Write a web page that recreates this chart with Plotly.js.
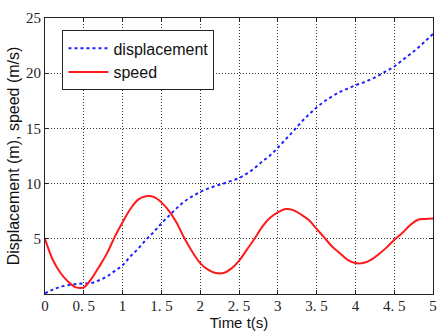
<!DOCTYPE html>
<html><head><meta charset="utf-8">
<script src="https://cdn.plot.ly/plotly-3.0.1.min.js"></script>
<style>html,body{margin:0;padding:0;background:#fff}#c{width:441px;height:331px}</style>
</head><body><div id="c"></div>
<script>
const time = [0,0.1,0.2,0.3,0.4,0.5,0.6,0.7,0.8,0.9,1.0,1.1,1.2,1.3,1.4,1.5,1.6,1.7,1.8,1.9,2.0,2.1,2.2,2.3,2.4,2.5,2.6,2.7,2.8,2.9,3.0,3.1,3.2,3.3,3.4,3.5,3.6,3.7,3.8,3.9,4.0,4.1,4.2,4.3,4.4,4.5,4.6,4.7,4.8,4.9,5.0];
const displacement = [0.05,0.4,0.65,0.8,0.9,0.95,1.0,1.25,1.6,2.1,2.6,3.4,4.1,4.9,5.6,6.4,7.1,7.8,8.4,8.85,9.25,9.55,9.8,10.0,10.25,10.5,10.9,11.4,12.0,12.55,13.25,14.0,14.75,15.55,16.25,16.9,17.45,17.9,18.3,18.6,18.9,19.15,19.45,19.8,20.2,20.6,21.15,21.7,22.25,22.9,23.55];
const speed = [5.0,3.1,1.9,1.1,0.6,0.6,1.4,2.5,3.7,5.2,6.5,7.7,8.55,8.85,8.8,8.3,7.5,6.4,5.0,3.8,2.8,2.2,1.9,1.9,2.3,3.0,4.0,5.0,6.1,6.9,7.4,7.7,7.6,7.2,6.7,5.9,5.1,4.3,3.7,3.1,2.8,2.8,3.1,3.6,4.2,4.9,5.5,6.2,6.7,6.8,6.85];
const xTickVals = [0,0.5,1,1.5,2,2.5,3,3.5,4,4.5,5];
const xTickText = ["0","0. 5","1","1. 5","2","2. 5","3","3. 5","4","4. 5","5"];
const yTickVals = [5,10,15,20,25];
const yTickText = ["5","10","15","20","25"];

const traces = [
  {x: time, y: displacement, name: 'displacement', mode: 'lines', line: {color: '#1f1fff', width: 2, dash: 'dot', shape: 'spline'}},
  {x: time, y: speed, name: 'speed', mode: 'lines', line: {color: '#ff1a1a', width: 2, shape: 'spline'}}
];
const sans = 'Liberation Sans, Arial, sans-serif';
const axisCommon = {showline: true, linecolor: '#222', linewidth: 1, mirror: 'ticks', ticks: 'inside', ticklen: 4, tickcolor: '#222',
  showgrid: true, gridcolor: '#333', griddash: '1px,2px', gridwidth: 1, zeroline: false,
  tickfont: {family: 'Liberation Serif, serif', size: 15, color: '#222'}};
const layout = {
  width: 441, height: 331,
  margin: {l: 45, r: 8, t: 18, b: 37},
  paper_bgcolor: '#fff', plot_bgcolor: '#fff',
  showlegend: true,
  legend: {x: 0.045, y: 0.955, xanchor: 'left', yanchor: 'top', bordercolor: '#222', borderwidth: 1, bgcolor: '#fff',
    font: {family: sans, size: 16, color: '#111'}, tracegroupgap: 0, itemwidth: 40},
  xaxis: Object.assign({}, axisCommon, {range: [0, 5], tickmode: 'array', tickvals: xTickVals, ticktext: xTickText, ticklabelstandoff: -2,
    title: {text: 'Time t(s)', font: {family: sans, size: 15, color: '#111'}, standoff: 0}}),
  yaxis: Object.assign({}, axisCommon, {range: [0, 25], tickmode: 'array', tickvals: yTickVals, ticktext: yTickText,
    title: {text: 'Displacement (m), speed (m/s)', font: {family: sans, size: 16, color: '#111'}, standoff: 2}})
};
Plotly.newPlot('c', traces, layout, {displayModeBar: false, staticPlot: true});
</script>
</body></html>
